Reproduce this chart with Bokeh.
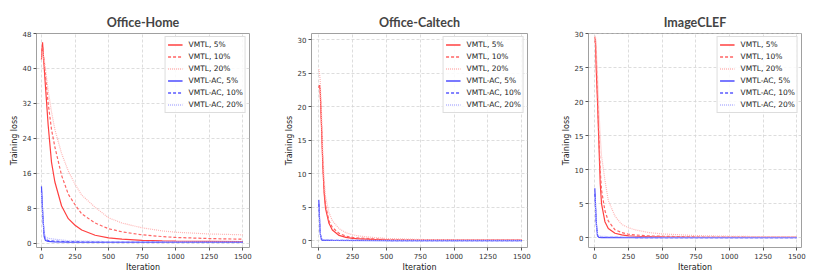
from bokeh.plotting import figure
from bokeh.layouts import row
from bokeh.models import FixedTicker, Legend, LegendItem, Range1d
from bokeh.embed import file_html
from bokeh.resources import INLINE

# ---------------- data ----------------
titles = ["Office-Home", "Office-Caltech", "ImageCLEF"]
series_names = ["VMTL, 5%", "VMTL, 10%", "VMTL, 20%", "VMTL-AC, 5%", "VMTL-AC, 10%", "VMTL-AC, 20%"]
x_ticks = [0, 250, 500, 750, 1000, 1250, 1500]

# Office-Home
oh_iter = [0, 8, 25, 50, 75, 100, 150, 200, 250, 300, 400, 500, 600, 750, 900, 1000, 1250, 1500]
oh_vmtl_5 = [42, 46, 38, 27, 18.5, 14, 8.5, 5.6, 4.1, 3.0, 1.8, 1.2, 0.9, 0.65, 0.5, 0.45, 0.4, 0.35]
oh_vmtl_10 = [44, 45, 40, 32, 26, 22, 15.5, 11.2, 8.8, 6.7, 4.6, 3.3, 2.6, 1.9, 1.5, 1.3, 1.05, 0.9]
oh_vmtl_20 = [42, 44, 41, 35, 30, 26, 20.5, 16.5, 13.5, 11, 8.2, 5.8, 4.6, 3.5, 2.8, 2.5, 2.1, 1.9]
oh_ac_iter = [0, 10, 20, 30, 50, 100, 200, 500, 1000, 1500]
oh_ac_5 = [13, 6.5, 1.5, 0.6, 0.4, 0.3, 0.25, 0.2, 0.2, 0.2]
oh_ac_10 = [12, 6, 2.0, 0.9, 0.6, 0.45, 0.35, 0.25, 0.2, 0.2]
oh_ac_20 = [11.5, 6, 2.5, 1.4, 1.1, 0.9, 0.55, 0.35, 0.3, 0.3]
oh_yticks = [0, 8, 16, 24, 32, 40, 48]

# Office-Caltech
oc_iter = [0, 5, 10, 20, 30, 40, 50, 75, 100, 150, 200, 250, 300, 400, 500, 750, 1000, 1250, 1500]
oc_vmtl_5 = [22.8, 23.2, 22.5, 17, 11, 7, 4.8, 2.6, 1.6, 0.8, 0.5, 0.35, 0.3, 0.2, 0.15, 0.1, 0.1, 0.1, 0.1]
oc_vmtl_10 = [23.0, 23.0, 22.6, 17.5, 11.5, 7.5, 5.3, 3.0, 2.0, 1.1, 0.7, 0.5, 0.4, 0.3, 0.2, 0.15, 0.12, 0.1, 0.1]
oc_vmtl_20 = [25.6, 25.0, 24, 19, 13, 9, 6.5, 4.2, 3.0, 1.8, 1.2, 0.9, 0.7, 0.5, 0.35, 0.2, 0.15, 0.12, 0.1]
oc_ac_iter = [0, 5, 10, 20, 30, 50, 100, 500, 1000, 1500]
oc_ac_5 = [6.1, 3.5, 1.2, 0.15, 0.08, 0.06, 0.05, 0.03, 0.03, 0.03]
oc_ac_10 = [5.5, 3.2, 1.1, 0.2, 0.1, 0.08, 0.06, 0.04, 0.03, 0.03]
oc_ac_20 = [5.0, 3.0, 1.2, 0.35, 0.2, 0.15, 0.1, 0.06, 0.05, 0.05]
oc_yticks = [0, 5, 10, 15, 20, 25, 30]

# ImageCLEF
ic_iter = [0, 5, 10, 20, 30, 40, 50, 75, 100, 150, 200, 250, 300, 400, 500, 750, 1000, 1250, 1500]
ic_vmtl_5 = [29.5, 29.0, 25.0, 20, 14, 8, 5.0, 2.4, 1.4, 0.7, 0.45, 0.3, 0.25, 0.2, 0.15, 0.1, 0.1, 0.1, 0.1]
ic_vmtl_10 = [29.0, 28.5, 27, 21, 15, 10, 7.0, 4.0, 2.5, 1.2, 0.8, 0.55, 0.45, 0.3, 0.25, 0.15, 0.12, 0.1, 0.1]
ic_vmtl_20 = [29.7, 29.6, 28, 24, 19, 15, 12.0, 8.5, 5.5, 3.2, 2.0, 1.5, 1.2, 0.8, 0.6, 0.35, 0.25, 0.2, 0.2]
ic_ac_iter = [0, 5, 10, 20, 30, 50, 100, 500, 1000, 1500]
ic_ac_5 = [7.3, 5, 2.5, 0.3, 0.08, 0.05, 0.05, 0.03, 0.03, 0.03]
ic_ac_10 = [6.5, 4.5, 2.2, 0.4, 0.15, 0.1, 0.08, 0.05, 0.04, 0.04]
ic_ac_20 = [6.0, 4.2, 2.2, 0.6, 0.3, 0.25, 0.2, 0.1, 0.08, 0.08]
ic_yticks = [0, 5, 10, 15, 20, 25, 30]

# ---------------- styling ----------------
styles = [
    dict(color="#ff4040", dash="solid"),
    dict(color="#ff6464", dash="3 2"),
    dict(color="#ffb4b4", dash="1 1"),
    dict(color="#4d4dff", dash="solid"),
    dict(color="#5a5aff", dash="3 2"),
    dict(color="#b4b4ff", dash="1 1"),
]

panels = [
    dict(title=titles[0], x=[oh_iter] * 3 + [oh_ac_iter] * 3,
         ys=[oh_vmtl_5, oh_vmtl_10, oh_vmtl_20, oh_ac_5, oh_ac_10, oh_ac_20],
         yticks=oh_yticks, xr=(-37, 1550), yr=(-1.0, 48.0),
         width=280, left=36, right=31),
    dict(title=titles[1], x=[oc_iter] * 3 + [oc_ac_iter] * 3,
         ys=[oc_vmtl_5, oc_vmtl_10, oc_vmtl_20, oc_ac_5, oc_ac_10, oc_ac_20],
         yticks=oc_yticks, xr=(-54, 1542), yr=(-1.0, 30.9),
         width=275, left=31, right=28),
    dict(title=titles[2], x=[ic_iter] * 3 + [ic_ac_iter] * 3,
         ys=[ic_vmtl_5, ic_vmtl_10, ic_vmtl_20, ic_ac_5, ic_ac_10, ic_ac_20],
         yticks=ic_yticks, xr=(-47, 1535), yr=(-1.4, 30.05),
         width=267, left=33, right=21),
]

FONT = "DejaVu Sans"
figs = []
for pd_ in panels:
    p = figure(width=pd_["width"], height=276, output_backend="svg", toolbar_location=None,
               x_range=Range1d(*pd_["xr"]), y_range=Range1d(*pd_["yr"]),
               min_border_left=pd_["left"], min_border_right=pd_["right"],
               min_border_top=33, min_border_bottom=29)
    p.title.text = pd_["title"]
    p.title.align = "center"
    p.title.text_font = "Lato"
    p.title.text_font_style = "bold"
    p.title.text_font_size = "12.5px"
    p.title.standoff = 8
    p.outline_line_color = "#a0a0a0"
    p.outline_line_width = 1
    p.background_fill_color = "white"
    p.border_fill_color = "white"

    items = []
    for i in range(6):
        st = styles[i]
        p.line(pd_["x"][i], pd_["ys"][i], line_color=st["color"],
               line_width=1.2, line_dash=st["dash"])
    for i in range(6):
        st = styles[i]
        # legend sample: a one-point line (draws nothing in the plot area)
        lr = p.line(x=pd_["x"][i][:1], y=pd_["ys"][i][:1], line_color=st["color"],
                    line_width=1.4, line_dash=st["dash"])
        items.append(LegendItem(label=series_names[i], renderers=[lr]))

    leg = Legend(items=items, location="top_right", label_text_font=FONT,
                 label_text_font_size="7.5px", label_text_color="#1a1a1a",
                 glyph_width=15, glyph_height=11, label_height=11, label_standoff=6,
                 spacing=1, padding=2, margin=3,
                 border_line_color="#dddddd", border_line_alpha=1.0,
                 background_fill_alpha=0.85)
    p.add_layout(leg)

    p.xaxis.ticker = FixedTicker(ticks=x_ticks)
    p.yaxis.ticker = FixedTicker(ticks=pd_["yticks"])
    for ax in (p.xaxis, p.yaxis):
        ax.axis_line_color = None
        ax.major_tick_line_color = "#555555"
        ax.major_tick_out = 3
        ax.major_tick_in = 0
        ax.minor_tick_line_color = None
        ax.major_label_text_font = FONT
        ax.major_label_text_font_size = "7px"
        ax.major_label_text_color = "#333333"
        ax.major_label_standoff = 2
        ax.axis_label_text_font = FONT
        ax.axis_label_text_font_size = "8px"
        ax.axis_label_text_font_style = "normal"
        ax.axis_label_text_color = "#222222"
        ax.axis_label_standoff = 1
    p.xaxis.axis_label = "Iteration"
    p.yaxis.axis_label = "Training loss"

    for g in (p.xgrid, p.ygrid):
        g.grid_line_color = "#d4d4d4"
        g.grid_line_dash = "3 2"
        g.grid_line_width = 0.8

    figs.append(p)

layout = row(*figs)
open("out.html", "w").write(file_html(layout, INLINE))
